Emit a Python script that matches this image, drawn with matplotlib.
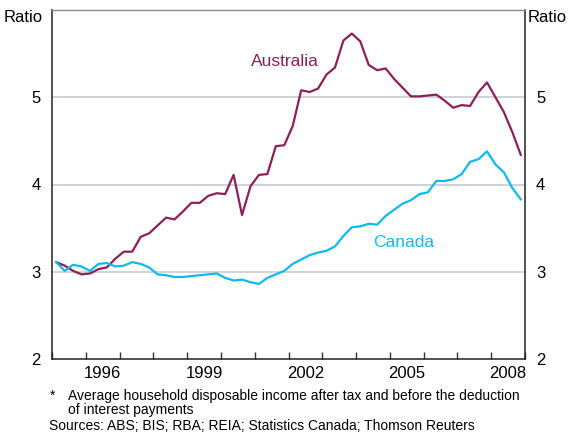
import numpy as np
import matplotlib
matplotlib.use('Agg')
import matplotlib.pyplot as plt

plt.rcParams['font.family'] = ['Liberation Sans', 'DejaVu Sans']

# Quarterly ratios, 1995 Q1 to 2008 Q4
australia = [3.11, 3.07, 3.01, 2.97, 2.98, 3.03, 3.05, 3.15, 3.23, 3.23,
             3.40, 3.44, 3.53, 3.62, 3.60, 3.69, 3.79, 3.79, 3.87, 3.90,
             3.89, 4.11, 3.65, 3.98, 4.11, 4.12, 4.44, 4.45, 4.67, 5.08,
             5.06, 5.10, 5.26, 5.34, 5.65, 5.73, 5.64, 5.37, 5.31, 5.33,
             5.21, 5.11, 5.01, 5.01, 5.02, 5.03, 4.96, 4.88, 4.91, 4.90,
             5.06, 5.17, 5.00, 4.83, 4.60, 4.34]
canada = [3.11, 3.01, 3.08, 3.06, 3.01, 3.09, 3.10, 3.06, 3.07, 3.11,
          3.09, 3.05, 2.97, 2.96, 2.94, 2.94, 2.95, 2.96, 2.97, 2.98,
          2.93, 2.90, 2.91, 2.88, 2.86, 2.93, 2.97, 3.01, 3.09, 3.14,
          3.19, 3.22, 3.24, 3.29, 3.41, 3.51, 3.52, 3.55, 3.54, 3.64,
          3.71, 3.78, 3.82, 3.89, 3.91, 4.04, 4.04, 4.06, 4.12, 4.26,
          4.29, 4.38, 4.23, 4.14, 3.96, 3.83]
year_labels = [1996, 1999, 2002, 2005, 2008]

dates = 1995 + 0.125 + 0.25 * np.arange(len(australia))

aus_col = '#8e1f5a'
can_col = '#12b8ec'

fig = plt.figure(figsize=(5.71, 4.34), dpi=100)
ax = fig.add_axes([52 / 571, 1 - 359 / 434, 473 / 571, 349 / 434])

ax.plot(dates, australia, color=aus_col, lw=1.6)
ax.plot(dates, canada, color=can_col, lw=1.6)

ax.set_xlim(1995, 2009)
ax.set_ylim(2, 6)

# gridlines
for v in [3, 4, 5]:
    ax.axhline(v, color='#c3c7ca', lw=1.1, zorder=0)

# x ticks at year boundaries, labels mid-year
ax.set_xticks(np.arange(1995, 2010))
ax.set_xticklabels([])
ax.tick_params(axis='x', which='major', direction='in', length=5, width=1, color='#333333')
ax.set_xticks([y + 0.5 for y in year_labels], minor=True)
ax.set_xticklabels([str(y) for y in year_labels], minor=True, fontsize=12)
ax.tick_params(axis='x', which='minor', length=0, pad=5)

ax.set_yticks([2, 3, 4, 5])
ax.set_yticklabels(['2', '3', '4', '5'], fontsize=12)
ax.tick_params(axis='y', length=0, pad=8, labelleft=True, labelright=True)

for s in ['left', 'right', 'bottom']:
    ax.spines[s].set_color('#222222')
    ax.spines[s].set_linewidth(1.1)
ax.spines['top'].set_color('#8a8a8a')
ax.spines['top'].set_linewidth(1.0)

ax.text(2000.9, 5.36, 'Australia', color=aus_col, fontsize=12.5)
ax.text(2004.5, 3.28, 'Canada', color=can_col, fontsize=12.5)

fig.text(4 / 571, 1 - 18 / 434, 'Ratio', fontsize=12, va='center', ha='left')
fig.text(567 / 571, 1 - 18 / 434, 'Ratio', fontsize=12, va='center', ha='right')

fig.text(50 / 571, 1 - 396 / 434, '*', fontsize=10, va='center')
fig.text(68 / 571, 1 - 396 / 434,
         'Average household disposable income after tax and before the deduction',
         fontsize=10, va='center')
fig.text(68 / 571, 1 - 410 / 434, 'of interest payments', fontsize=10, va='center')
fig.text(49 / 571, 1 - 426 / 434,
         'Sources: ABS; BIS; RBA; REIA; Statistics Canada; Thomson Reuters',
         fontsize=10, va='center')

fig.savefig('out.png', dpi=100)
